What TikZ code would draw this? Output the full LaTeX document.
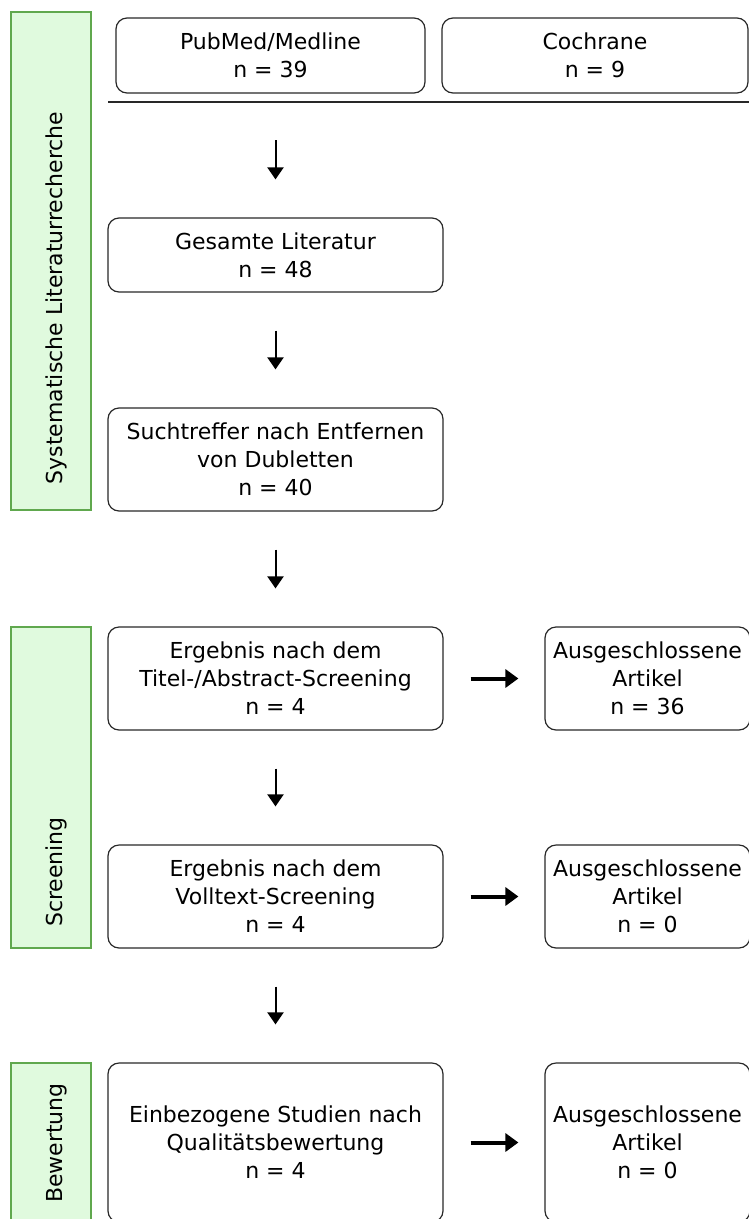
\documentclass[tikz,border=0pt]{standalone}
\usepackage{fontspec}
\setmainfont{DejaVu Sans}
\usepackage{tikz}
\usetikzlibrary{arrows.meta}

\definecolor{barfill}{RGB}{224,250,222}
\definecolor{barline}{RGB}{96,168,78}
\definecolor{boxline}{RGB}{40,40,40}

\begin{document}
\begin{tikzpicture}[x=1pt, y=-1pt,
  every node/.style={font=\fontsize{22}{28}\selectfont},
  boxes/.style={draw=boxline, line width=1.2pt, rounded corners=11pt, align=center, inner sep=0pt},
  bars/.style={draw=barline, fill=barfill, line width=2.5pt, minimum width=80pt, inner sep=0pt},
  down/.style={-{Triangle[length=12pt,width=16pt]}, line width=2pt, shorten <=38pt, shorten >=38pt},
  across/.style={-{Triangle[length=13pt,width=18pt]}, line width=4pt, shorten <=27pt, shorten >=26pt}]

 \useasboundingbox (0,0) rectangle (749,1219);

 % phases
 \node [bars, minimum height=498pt] (phase_search) at (51,261) {};
 \node [bars, minimum height=321pt] (phase_screen) at (51,787.5) {};
 \node [bars, minimum height=170pt] (phase_rating) at (51,1148) {};

 \node [rotate=90, anchor=base] (label_search) at (62,298)
     {Systematische Literaturrecherche};
 \node [rotate=90, anchor=base] (label_screen) at (62,872)
     {Screening};
 \node [rotate=90, anchor=base] (label_rating) at (62,1143)
     {Bewertung};

 % sources
 \node [boxes, minimum width=309pt, minimum height=75pt] (src_pubmed) at (270.5,55.5)
     {PubMed/Medline\\n = 39};
 \node [boxes, minimum width=306pt, minimum height=75pt] (src_cochrane) at (595,55.5)
     {Cochrane\\n = 9};

 \coordinate (rule_left) at (108,102);
 \coordinate (rule_mid) at (275.5,102);
 \coordinate (rule_right) at (749,102);
 \draw [draw=boxline, line width=1.5pt] (rule_left) -- (rule_right);

 % main column
 \node [boxes, minimum width=335pt, minimum height=74pt] (lit_total) at (275.5,255)
     {Gesamte Literatur\\n = 48};
 \node [boxes, minimum width=335pt, minimum height=103pt] (lit_unique) at (275.5,459.5)
     {Suchtreffer nach Entfernen\\von Dubletten\\n = 40};
 \node [boxes, minimum width=335pt, minimum height=103pt] (res_title) at (275.5,678.5)
     {Ergebnis nach dem\\Titel-/Abstract-Screening\\n = 4};
 \node [boxes, minimum width=335pt, minimum height=103pt] (res_full) at (275.5,896.5)
     {Ergebnis nach dem\\Volltext-Screening\\n = 4};
 \node [boxes, minimum width=335pt, minimum height=159pt] (res_quality) at (275.5,1142.5)
     {Einbezogene Studien nach\\Qualitätsbewertung\\n = 4};

 % excluded
 \node [boxes, minimum width=205pt, minimum height=103pt] (excl_title) at (647.5,678.5)
     {Ausgeschlossene\\Artikel\\n = 36};
 \node [boxes, minimum width=205pt, minimum height=103pt] (excl_full) at (647.5,896.5)
     {Ausgeschlossene\\Artikel\\n = 0};
 \node [boxes, minimum width=205pt, minimum height=159pt] (excl_quality) at (647.5,1142.5)
     {Ausgeschlossene\\Artikel\\n = 0};

 \draw [down] (rule_mid) to (lit_total);
 \draw [down] (lit_total) to (lit_unique);
 \draw [down] (lit_unique) to (res_title);
 \draw [down] (res_title) to (res_full);
 \draw [down] (res_full) to (res_quality);

 \draw [across] (res_title) to (excl_title);
 \draw [across] (res_full) to (excl_full);
 \draw [across] (res_quality) to (excl_quality);

\end{tikzpicture}
\end{document}
